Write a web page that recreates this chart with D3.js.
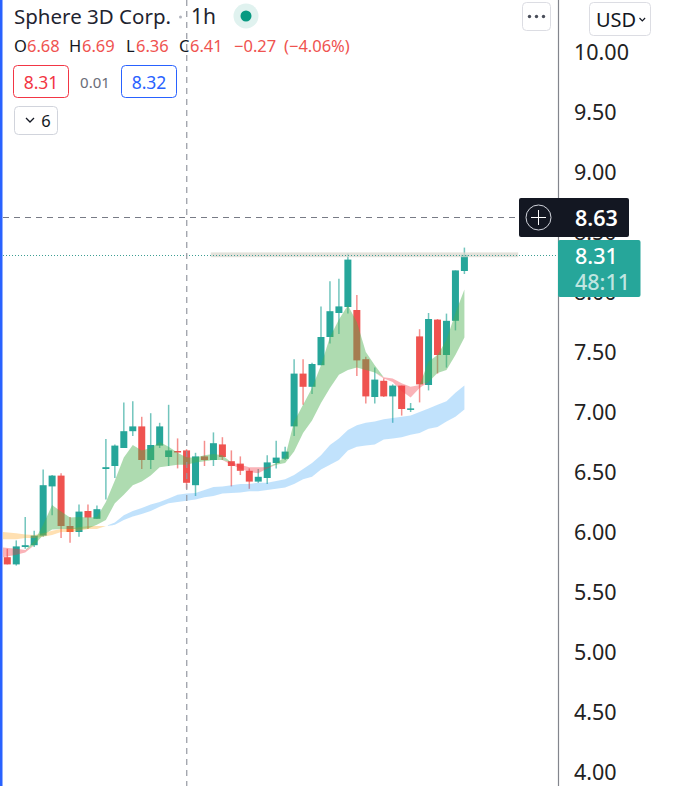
<!DOCTYPE html>
<html><head><meta charset="utf-8">
<style>html,body{margin:0;padding:0;background:#fff;overflow:hidden}svg{display:block}text{font-family:"Noto Sans",sans-serif}</style>
<script src="https://cdn.jsdelivr.net/npm/d3@7"></script></head><body>
<svg id="c" width="675" height="786"></svg>
<script>
const opens =[5.79,5.73,5.875,5.89,5.97,6.38,6.47,6.05,6.0,6.175,6.11,6.525,6.55,6.70,6.84,6.88,6.60,6.72,6.625,6.675,6.68,6.39,6.63,6.60,6.73,6.59,6.57,6.51,6.42,6.45,6.575,6.61,6.88,7.32,7.21,7.39,7.625,7.825,7.875,7.85,7.44,7.125,7.26,7.13,7.22,7.02,7.63,7.225,7.77,7.475,7.76,8.175];
const highs =[5.86,5.93,6.125,6.01,6.52,6.475,6.49,6.125,6.23,6.23,6.22,6.775,6.73,7.08,7.09,6.96,6.99,6.91,7.06,6.78,6.69,6.66,6.76,6.83,6.79,6.68,6.63,6.53,6.525,6.64,6.76,6.71,7.44,7.44,7.41,7.88,8.09,8.11,8.32,7.975,7.46,7.37,7.28,7.23,7.22,7.075,7.69,7.825,7.775,7.82,8.18,8.37];
const lows  =[5.73,5.72,5.86,5.875,5.96,6.14,5.95,5.91,5.96,6.025,6.11,6.27,6.45,6.70,6.80,6.525,6.525,6.70,6.55,6.53,6.36,6.30,6.55,6.55,6.60,6.38,6.475,6.36,6.41,6.40,6.53,6.60,6.80,7.06,7.15,7.39,7.57,7.65,7.82,7.30,7.07,7.07,7.125,6.91,6.97,7.0,7.08,7.18,7.32,7.37,7.68,8.15];
const closes=[5.73,5.88,5.89,5.97,6.39,6.47,6.05,6.0,6.17,6.12,6.19,6.54,6.72,6.84,6.88,6.60,6.725,6.88,6.68,6.667,6.41,6.63,6.60,6.74,6.625,6.55,6.51,6.42,6.46,6.58,6.62,6.67,7.32,7.21,7.40,7.625,7.84,7.88,8.27,7.43,7.13,7.27,7.13,7.22,7.025,7.03,7.23,7.775,7.475,7.76,8.18,8.31];

const emaFastA=[5.79,5.81,5.83,5.925,6.06,6.225,6.17,6.12,6.125,6.12,6.125,6.25,6.43,6.62,6.725,6.68,6.70,6.75,6.71,6.66,6.62,6.62,6.64,6.65,6.64,6.56,6.53,6.50,6.49,6.53,6.575,6.625,6.92,7.06,7.20,7.39,7.625,7.77,7.89,7.75,7.50,7.39,7.28,7.25,7.175,7.12,7.20,7.42,7.475,7.60,7.825,8.02];
const emaSlowA=[5.87,5.86,5.85,5.89,5.975,6.02,6.025,6.025,6.025,6.03,6.06,6.10,6.24,6.31,6.39,6.42,6.47,6.54,6.55,6.56,6.56,6.58,6.59,6.60,6.60,6.58,6.56,6.54,6.54,6.54,6.56,6.575,6.67,6.825,6.93,7.075,7.20,7.31,7.35,7.37,7.35,7.33,7.29,7.28,7.24,7.21,7.225,7.25,7.325,7.35,7.475,7.62];
const emaFastB=[5.94,5.94,5.95,5.95,5.96,5.975,6.0,6.0,6.01,6.025,6.025,6.05,6.08,6.14,6.175,6.20,6.23,6.25,6.28,6.31,6.32,6.325,6.35,6.375,6.38,6.39,6.40,6.40,6.41,6.41,6.425,6.44,6.475,6.525,6.575,6.64,6.725,6.78,6.85,6.89,6.91,6.92,6.94,6.95,6.96,6.97,7.0,7.03,7.06,7.09,7.16,7.22];
const emaSlowB=[6.0,5.99,5.98,5.975,5.99,6.01,6.025,6.03,6.04,6.05,6.05,6.05,6.06,6.10,6.13,6.15,6.175,6.21,6.24,6.25,6.26,6.27,6.29,6.30,6.32,6.325,6.33,6.34,6.34,6.35,6.36,6.37,6.40,6.44,6.46,6.52,6.56,6.60,6.68,6.71,6.72,6.73,6.77,6.78,6.79,6.81,6.825,6.86,6.875,6.92,6.96,7.02];

const priceTicks=[10,9.5,9,8.5,8,7.5,7,6.5,6,5.5,5,4.5,4];
const lastPrice=8.31, crossPrice=8.63, crossIndex=20;
const bandPrice=[8.29,8.33];
const bandRange=[22.7,57];

const svg=d3.select("#c");
const y=d3.scaleLinear().domain([4,10]).range([772,52]);
const x=d3.scaleLinear().domain([0,51]).range([7.3,464.4]);
const idx=d3.range(opens.length);
const UP="#26a69a",DOWN="#ef5350";
const FONT='"Noto Sans",sans-serif';

// price axis (under the price labels)
const axis=d3.axisRight(y).tickValues(priceTicks).tickFormat(d3.format(".2f")).tickSize(0).tickPadding(16);
const gA=svg.append("g").attr("transform","translate(558,1)").call(axis);
gA.select(".domain").remove();
gA.selectAll("text").attr("font-size",21.5).attr("font-family",FONT).attr("fill","#222");
svg.append("line").attr("x1",558.5).attr("x2",558.5).attr("y1",0).attr("y2",786).attr("stroke","#83858d").attr("stroke-width",1.2);

// left edge
svg.append("rect").attr("x",0).attr("y",0).attr("width",2.5).attr("height",786).attr("fill","#2962ff");

// candles
const g=svg.append("g");
g.selectAll("line.wick").data(idx).join("line").attr("class","wick")
 .attr("x1",i=>x(i)).attr("x2",i=>x(i)).attr("y1",i=>y(highs[i])).attr("y2",i=>y(lows[i]))
 .attr("stroke",i=>closes[i]>=opens[i]?UP:DOWN).attr("stroke-width",1.5).attr("stroke-opacity",.65);
g.selectAll("rect.body").data(idx).join("rect").attr("class","body")
 .attr("x",i=>x(i)-3.5).attr("width",7)
 .attr("y",i=>y(Math.max(opens[i],closes[i])))
 .attr("height",i=>Math.max(1.5,Math.abs(y(opens[i])-y(closes[i]))))
 .attr("fill",i=>closes[i]>=opens[i]?UP:DOWN);

// clouds: the first bar's value runs on to the pane's left edge
function cloud(f,s,col,pick){
  const a=d3.area().x(i=>i===0?3:x(i)).y0(i=>y(s[i])).y1(i=>y(pick(f[i],s[i])));
  svg.append("path").attr("d",a(idx)).attr("fill",col).attr("stroke","none");
}
cloud(emaFastB,emaSlowB,"rgba(33,150,243,.28)",Math.max);
cloud(emaFastB,emaSlowB,"rgba(255,152,0,.3)",Math.min);
cloud(emaFastA,emaSlowA,"rgba(76,175,80,.45)",Math.max);
cloud(emaFastA,emaSlowA,"rgba(242,54,69,.38)",Math.min);

// resistance band, last price, crosshair
svg.append("rect").attr("x",x(bandRange[0])).attr("width",x(bandRange[1])-x(bandRange[0]))
 .attr("y",y(bandPrice[1])).attr("height",y(bandPrice[0])-y(bandPrice[1])).attr("fill","#d9d8cf").attr("opacity",.75);
svg.append("line").attr("x1",3).attr("x2",558).attr("y1",255.5).attr("y2",255.5)
 .attr("stroke","#3d9e93").attr("stroke-dasharray","1 2").attr("stroke-width",1);
svg.append("line").attr("x1",3).attr("x2",520).attr("y1",217.5).attr("y2",217.5)
 .attr("stroke","#787b86").attr("stroke-dasharray","6 5").attr("stroke-width",1);
svg.append("line").attr("x1",x(crossIndex)+.2).attr("x2",x(crossIndex)+.2).attr("y1",0).attr("y2",786)
 .attr("stroke","#9598a1").attr("stroke-dasharray","6 5").attr("stroke-width",1.2);

// price labels
svg.append("rect").attr("x",519).attr("y",198).attr("width",110).attr("height",39).attr("rx",2).attr("fill","#131722");
svg.append("circle").attr("cx",538.5).attr("cy",217.5).attr("r",12.5).attr("fill","none").attr("stroke","#d1d4dc").attr("stroke-width",1);
svg.append("path").attr("d","M531 217.5H546M538.5 210V225").attr("stroke","#fff").attr("stroke-width",1);
function t(px,py,s,size,fill,o={}){
  return svg.append("text").attr("x",px).attr("y",py).attr("font-size",size).attr("fill",fill)
   .attr("font-family",FONT).attr("font-weight",o.w||400).attr("text-anchor",o.a||"start")
   .attr("dominant-baseline","central").text(s);
}
t(575,217,d3.format(".2f")(crossPrice),21.5,"#fff",{w:600});
svg.append("rect").attr("x",558).attr("y",240).attr("width",82.5).attr("height",57).attr("rx",2).attr("fill",UP);
t(575,255,d3.format(".2f")(lastPrice),21.5,"#fff",{w:500});
t(575,281,"48:11",21.5,"#bfe5e0",{w:500});

// header
t(14,16,"Sphere 3D Corp.",20.5,"#1f2430");
svg.append("circle").attr("cx",180.5).attr("cy",17).attr("r",1.5).attr("fill","#b2b5be");
t(191,16,"1h",21,"#1f2430");
svg.append("circle").attr("cx",246).attr("cy",16).attr("r",12.5).attr("fill","#e0f2ef");
svg.append("circle").attr("cx",246).attr("cy",16).attr("r",5.5).attr("fill","#089981");
const ohlc=[["O",14,opens[crossIndex]],["H",69,highs[crossIndex]],["L",126,lows[crossIndex]],["C",179,closes[crossIndex]]];
ohlc.forEach(([k,px,v])=>{
  t(px,45,k,16.5,"#131722");
  t(px+(k==="L"?10:(k==="C"?11:13)),45,d3.format(".2f")(v),16.5,DOWN);
});
t(234,45,"\u22120.27",16.5,DOWN);
t(284,45,"(\u22124.06%)",16.5,DOWN);

function box(px,py,w,h,stroke){svg.append("rect").attr("x",px).attr("y",py).attr("width",w).attr("height",h).attr("rx",4).attr("fill","#fff").attr("stroke",stroke).attr("stroke-width",1);}
box(13.5,65.5,55,32,"#f23645");
t(41,82,"8.31",17.5,"#f23645",{a:"middle"});
t(95,82,"0.01",15,"#6a6d78",{a:"middle"});
box(121.5,65.5,55,32,"#2962ff");
t(149,82,"8.32",17.5,"#2962ff",{a:"middle"});
box(14.5,106.5,43,28,"#d1d4dc");
svg.append("path").attr("d","M26 118l4 4 4-4").attr("fill","none").attr("stroke","#131722").attr("stroke-width",1.3);
t(46,120.5,"6",16.5,"#131722",{a:"middle"});
box(522.5,2.5,28,28,"#dcdde3");
[529.5,536.5,543.5].forEach(c=>svg.append("circle").attr("cx",c).attr("cy",16.5).attr("r",1.7).attr("fill","#4a4e5a"));
box(589.5,2.5,61,33,"#dcdde3");
t(596,19,"USD",20,"#131722");
svg.append("path").attr("d","M639.5 18l2.8 2.8 2.8-2.8").attr("fill","none").attr("stroke","#131722").attr("stroke-width",1.2);
</script></body></html>
